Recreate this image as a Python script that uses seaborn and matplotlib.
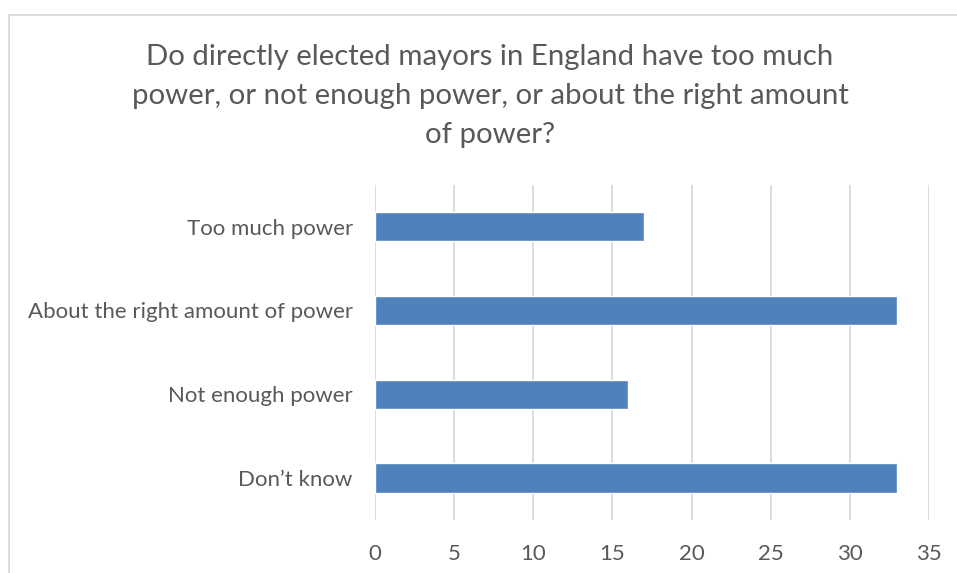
import matplotlib
matplotlib.use("Agg")
import matplotlib.pyplot as plt
import seaborn as sns
import pandas as pd

categories = ["Too much power", "About the right amount of power", "Not enough power", "Don\u2019t know"]
values = [17, 33, 16, 33]
x_ticks = [0, 5, 10, 15, 20, 25, 30, 35]

title = ("Do directly elected mayors in England have too much\n"
         "power, or not enough power, or about the right amount\n"
         "of power?")

sns.set_style("white")
plt.rcParams['font.family'] = ['Lato', 'DejaVu Sans']

df = pd.DataFrame({"answer": categories, "value": values})

fig = plt.figure(figsize=(9.57, 5.73), dpi=100)
ax = fig.add_axes([375 / 957, 0.0925, 554 / 957, 0.585])

sns.barplot(data=df, x="value", y="answer", orient="h", color="#4F81BD",
            width=0.35, saturation=1, ax=ax)

ax.set_xlim(0, 35)
ax.set_xticks(x_ticks)
ax.set_ylim(3.5, -0.5)
ax.set_xlabel("")
ax.set_ylabel("")
ax.grid(axis="x", color="#D9D9D9", linewidth=1.3)
ax.set_axisbelow(True)
for s in ax.spines.values():
    s.set_visible(False)
ax.tick_params(axis="both", length=0, labelsize=16, labelcolor="#595959")
ax.tick_params(axis="y", pad=16)
ax.tick_params(axis="x", pad=17)

fig.text(0.512, 1 - 96 / 573, title, ha="center", va="center", fontsize=21.2,
         color="#595959", linespacing=1.6)

# chart area border
border = plt.Rectangle((9 / 957, -0.1), 1.2, 1 - 15 / 573 + 0.1, transform=fig.transFigure,
                       fill=False, edgecolor="#D9D9D9", linewidth=1.3)
fig.patches.append(border)

fig.savefig("out.png", dpi=100)
